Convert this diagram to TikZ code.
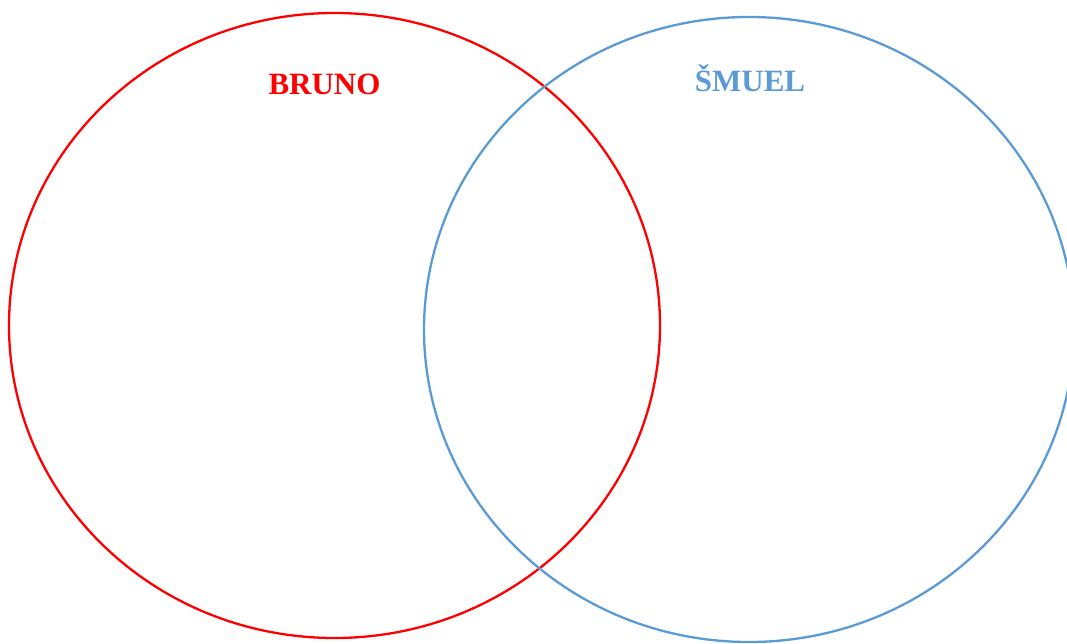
\documentclass[tikz,border=0pt]{standalone}
\usepackage{fontspec}
\setmainfont{Liberation Serif}
\definecolor{smuelblue}{HTML}{5B9BD5}
\begin{document}
\begin{tikzpicture}[x=1pt,y=-1pt,
  setline/.style={line width=2.3pt},
  setlabel/.style={font=\fontsize{31}{37}\selectfont\bfseries, anchor=base, inner sep=0pt}]
\useasboundingbox (0,0) rectangle (1067,644);
\draw[setline, red] (334.5,325.5) ellipse [x radius=325.5, y radius=312.5];
\draw[setline, smuelblue] (749,329.5) ellipse [x radius=325, y radius=312.5];
\node[setlabel, text=red] (bruno) at (324.5,95) {BRUNO};
\node[setlabel, text=smuelblue] (smuel) at (750,92) {ŠMUEL};
\end{tikzpicture}
\end{document}
